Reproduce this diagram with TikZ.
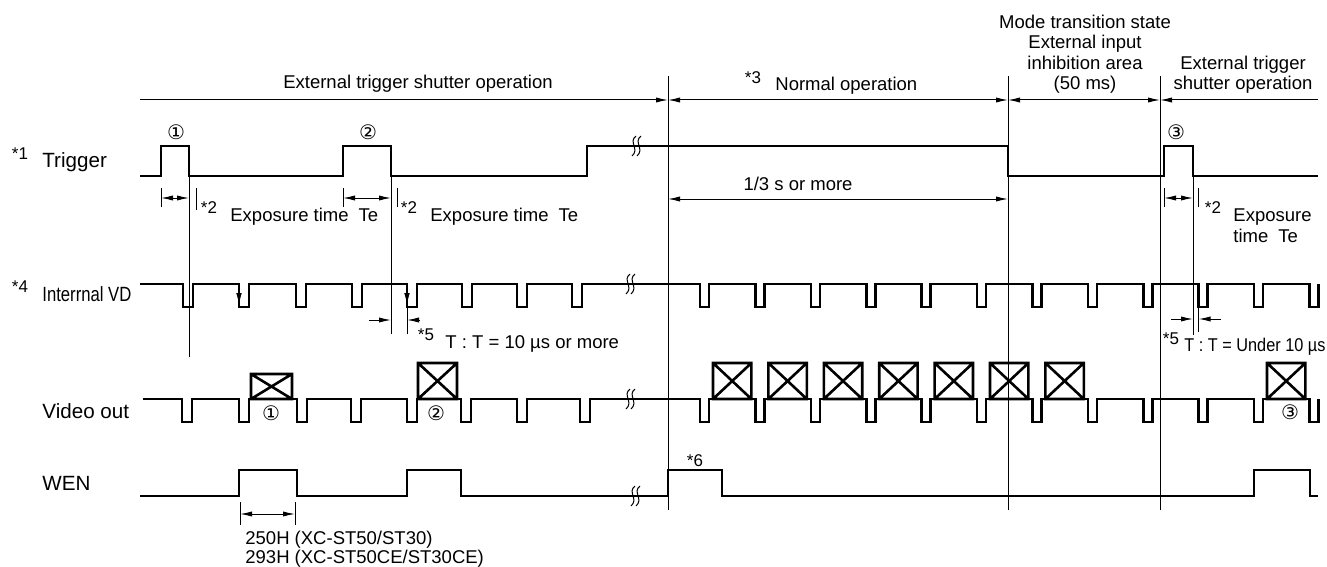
\documentclass[tikz,border=0pt]{standalone}
\usepackage{fontspec}
\setmainfont{Liberation Sans}
\newfontfamily\circfont{DejaVu Sans}
\usepackage{graphicx}
\usetikzlibrary{arrows.meta}
\tikzset{
  sig/.style={line width=1.3pt},
  thinln/.style={line width=0.5pt},
  dimln/.style={thinln,{Latex[length=6pt,width=2.6pt]}-{Latex[length=6pt,width=2.6pt]}},
  endarr/.style={thinln,-{Latex[length=6pt,width=2.6pt]}},
  txt/.style={font=\fontsize{9.25}{10.25}\selectfont,inner sep=0pt},
  lbl/.style={font=\fontsize{10.3}{12}\selectfont,inner sep=0pt,anchor=west},
  star/.style={font=\fontsize{8.5}{10}\selectfont,inner sep=0pt},
  circ/.style={font=\circfont\fontsize{10}{12}\selectfont,inner sep=0pt}
}
\newcommand\crossbox[4]{\draw[sig] (#1,#2) rectangle (#3,#4) (#1,#2) -- (#3,#4) (#1,#4) -- (#3,#2);}
\newcommand\wavebrk[2]{\draw[thinln] (#1+2,#2-10) .. controls (#1-6,#2-4) and (#1+6,#2+3) .. (#1-2,#2+10)
  (#1+7,#2-10) .. controls (#1-1,#2-4) and (#1+11,#2+3) .. (#1+3,#2+10);}
\begin{document}
\begin{tikzpicture}[x=0.5pt,y=-0.5pt]
\useasboundingbox (0,0) rectangle (1327,567);

\node[txt] (ext1) at (418,84) {External trigger shutter operation};
\node[star] (s3) at (753,78) {*3};
\node[txt,anchor=west] (normal) at (775,86) {Normal operation};
\node[txt,align=center,anchor=south] (mode) at (1085,94) {Mode transition state\\External input\\inhibition area\\(50 ms)};
\node[txt,align=center,anchor=south] (ext2) at (1243,94) {External trigger\\shutter operation};

\coordinate (tA) at (140,100); \coordinate (tB) at (668,100);
\coordinate (tC) at (1008,100); \coordinate (tD) at (1160,100);
\coordinate (tE) at (1318,100);
\draw[endarr] (tA) -- (tB); \draw[dimln] (tB) -- (tC);
\draw[dimln] (tC) -- (tD); \draw[endarr] (tE) -- (tD);
\draw[thinln] (668,76) -- (668,510);
\draw[thinln] (1008,76) -- (1008,510);
\draw[thinln] (1160,76) -- (1160,510);

% signal labels
\node[star] (s1) at (20,154) {*1};
\node[lbl] (trig) at (42,162) {Trigger};
\node[star] (s4) at (20,287) {*4};
\node[lbl] (vd) at (42,294) {\scalebox{0.81}[1]{Interrnal VD}};
\node[lbl] (vout) at (42,411) {Video out};
\node[lbl] (wen) at (42,483) {WEN};

% trigger
\draw[sig] (140,176) -- (161,176) |- (189,146) |- (343,176) |- (391,146) |- (587,176)
  |- (1008,146) |- (1164,176) |- (1193,146) |- (1318,176);
\node[circ] (c1) at (176,132) {①};
\node[circ] (c2) at (368,132) {②};
\node[circ] (c3) at (1176,132) {③};

% exposure time
\draw[thinln] (161,188) -- (161,207); \draw[thinln] (196,188) -- (196,210);
\draw[dimln] (161,198) -- (189,198);
\draw[thinln] (189,176) -- (189,357);
\node[star] (s2a) at (209,208) {*2};
\node[txt,anchor=west] (expa) at (230,217) {Exposure time\hspace{5pt}Te};
\draw[thinln] (343,188) -- (343,207); \draw[thinln] (397,188) -- (397,207);
\draw[dimln] (343,198) -- (391,198);
\draw[thinln] (391,176) -- (391,334);
\node[star] (s2b) at (409,208) {*2};
\node[txt,anchor=west] (expb) at (430,217) {Exposure time\hspace{5pt}Te};
\draw[thinln] (1164,188) -- (1164,207); \draw[thinln] (1198,188) -- (1198,207);
\draw[dimln] (1164,198) -- (1193,198);
\draw[thinln] (1193,176) -- (1193,335);
\node[star] (s2c) at (1213,208) {*2};
\node[txt,anchor=west,align=left] (expc) at (1233,225.5) {Exposure\\time\hspace{5pt}Te};

\draw[dimln] (668,199) -- (1008,199);
\node[txt] (third) at (798,184) {1/3 s or more};

% internal VD
\draw[sig] (140,284) foreach \p in {183,239,296,352,407,462,517,572}
  {-- (\p,284) -- (\p,307) -- (\p+10,307) -- (\p+10,284)} -- (700,284)
  foreach \k in {0,...,11} {-- (700+55.4*\k,284) -- (700+55.4*\k,307) -- (709+55.4*\k,307) -- (709+55.4*\k,284)};
\draw[thinln,-{Latex[length=6pt,width=2.8pt]}] (239,288) -- (239,305);
\draw[thinln,-{Latex[length=6pt,width=2.8pt]}] (407,288) -- (407,305);

\draw[thinln] (407,307) -- (407,334);
\draw[endarr] (369,320) -- (391,320); \draw[endarr] (420,320) -- (407,320);
\node[star] (s5a) at (426,335) {*5};
\node[txt,anchor=west] (tta) at (445,344) {T : T = 10 µs or more};
\draw[thinln] (1198.6,307) -- (1198.6,332);
\draw[endarr] (1171,319) -- (1193,319); \draw[endarr] (1221,319) -- (1198.6,319);
\node[star] (s5b) at (1171,339) {*5};
\node[txt,anchor=west] (ttb) at (1184,347) {\scalebox{0.88}[1]{T : T = Under 10 µs}};

% video out
\draw[sig] (143,399) foreach \p in {182,239,297,351,407,461,517,580}
  {-- (\p,399) -- (\p,422) -- (\p+10,422) -- (\p+10,399)} -- (700,399)
  foreach \k in {0,...,11} {-- (700+55.4*\k,399) -- (700+55.4*\k,422) -- (709+55.4*\k,422) -- (709+55.4*\k,399)};
\crossbox{251}{374}{292}{399}
\crossbox{418}{363}{457}{399}
\foreach \k in {0,...,6} {\crossbox{713+55.4*\k}{363}{751.4+55.4*\k}{399}}
\crossbox{1267}{363}{1305.4}{399}
\node[circ] (v1) at (271,413) {①};
\node[circ] (v2) at (436,413) {②};
\node[circ] (v3) at (1290,412) {③};

% WEN
\draw[sig] (140,496) -| (239,470) -| (297,496) -| (407,470) -| (461,496) -| (668,470)
  -| (722,496) -| (1254,470) -| (1310,496) -- (1318,496);
\node[star] (s6) at (695,461) {*6};
\draw[thinln] (240,502) -- (240,525); \draw[thinln] (295,502) -- (295,525);
\draw[dimln] (240,514) -- (295,514);
\node[txt,anchor=west] (h1) at (245,540) {250H (XC-ST50/ST30)};
\node[txt,anchor=west] (h2) at (245,559) {293H (XC-ST50CE/ST30CE)};

\wavebrk{634}{146}
\wavebrk{628}{284}
\wavebrk{628}{399}
\wavebrk{633}{496}
\end{tikzpicture}
\end{document}
